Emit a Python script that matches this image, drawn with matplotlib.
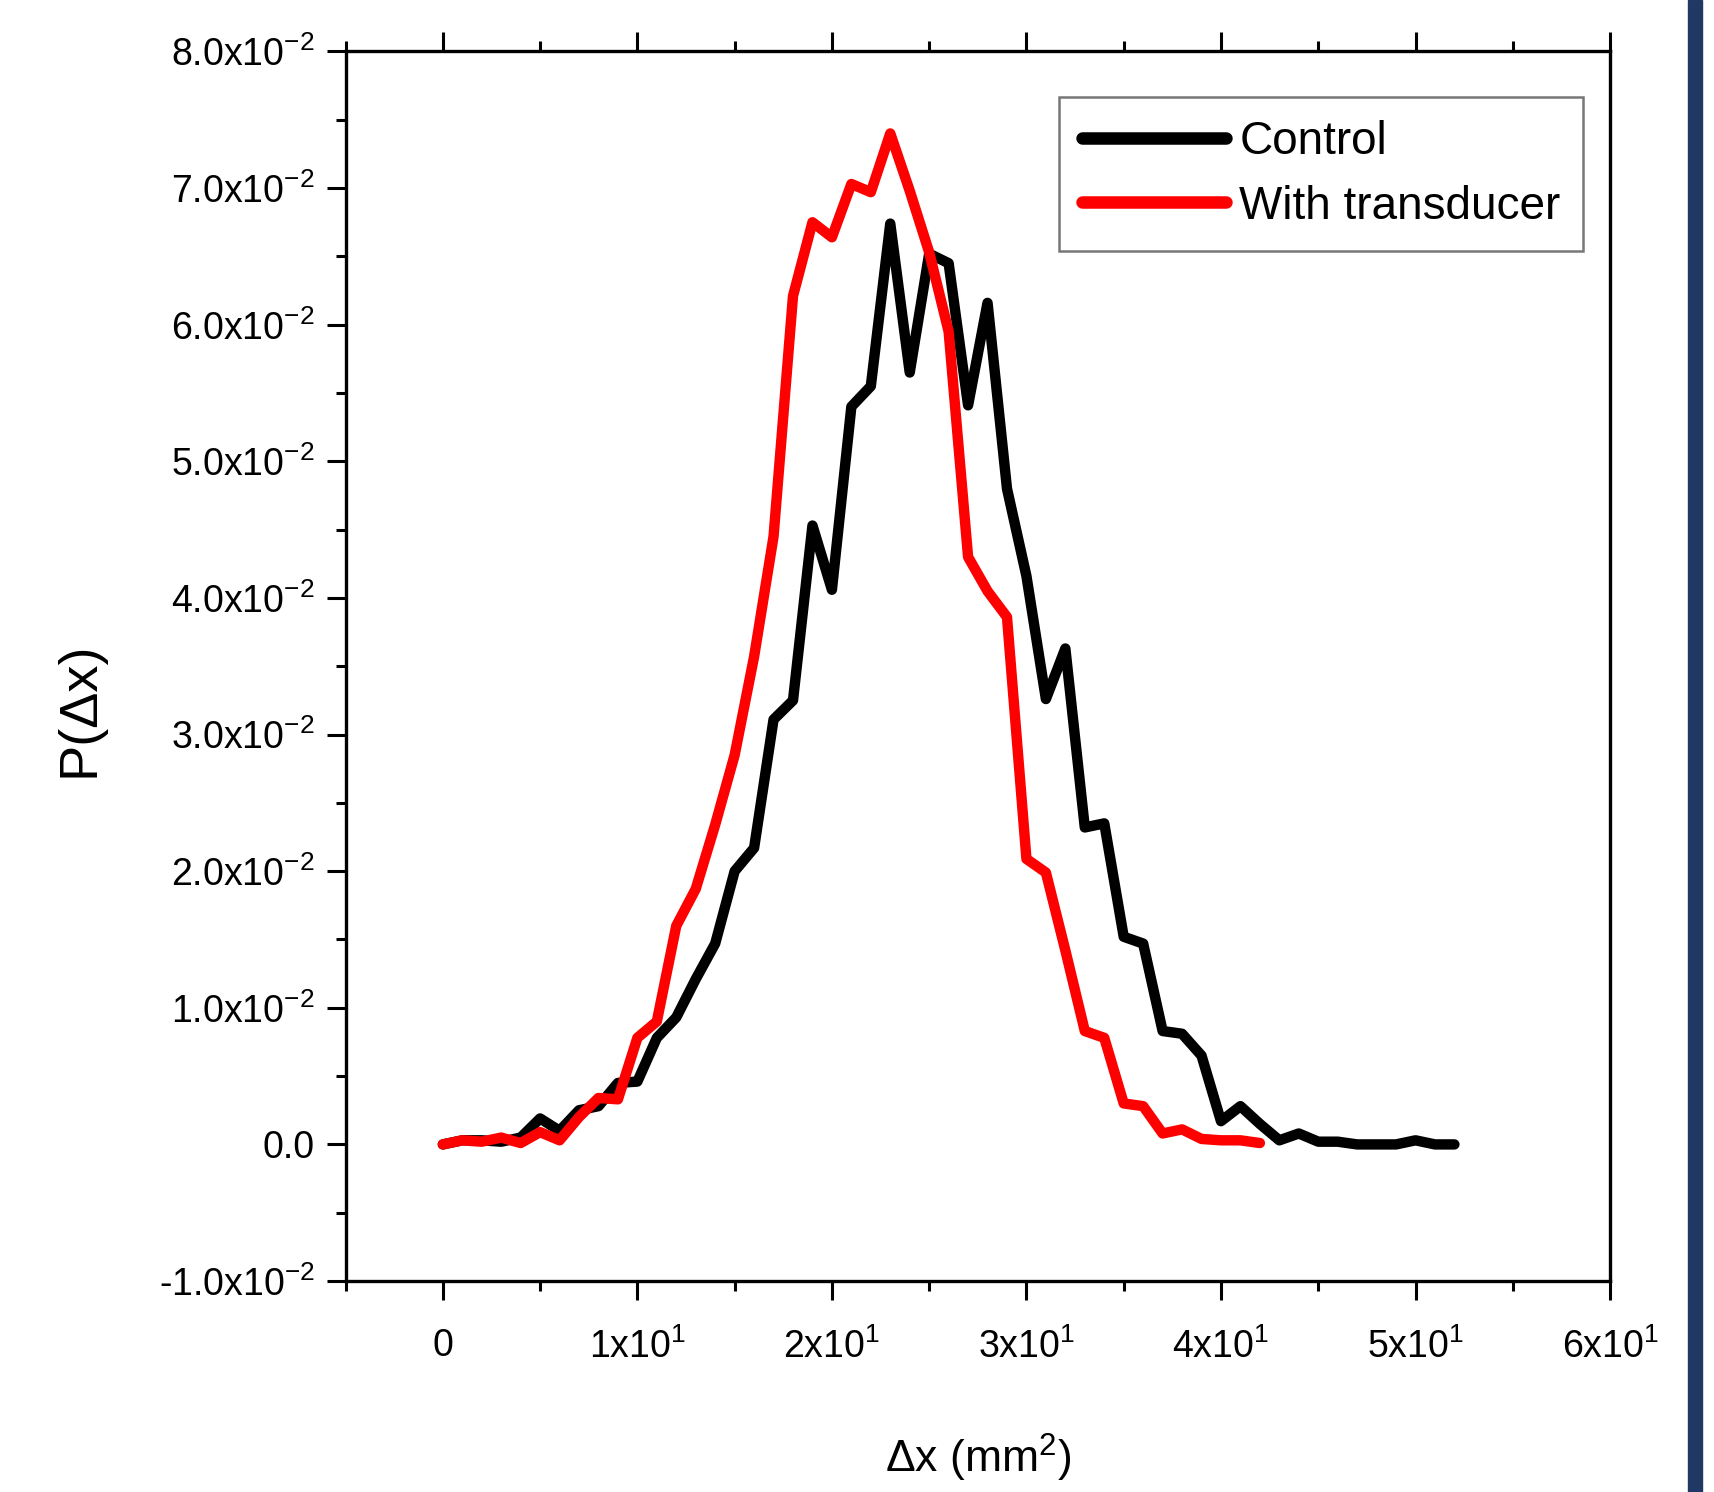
import numpy as np
import matplotlib
matplotlib.use("Agg")
import matplotlib.pyplot as plt
from matplotlib.patches import Rectangle
from matplotlib.ticker import MultipleLocator

plt.rcParams['font.family'] = ['Liberation Sans', 'DejaVu Sans']
plt.rcParams['mathtext.default'] = 'regular'

# displacement bins (mm^2)
control_x = list(range(0, 53))
control_p = [0.0, 0.0003, 0.0003, 0.0002, 0.0005, 0.0019, 0.0010, 0.0025, 0.0028, 0.0045,
             0.0046, 0.0078, 0.0093, 0.0121, 0.0147, 0.0200, 0.0217, 0.0311, 0.0325, 0.0453,
             0.0406, 0.0540, 0.0555, 0.0674, 0.0565, 0.0652, 0.0645, 0.0541, 0.0616, 0.0480,
             0.0416, 0.0326, 0.0363, 0.0232, 0.0235, 0.0152, 0.0147, 0.0083, 0.0081, 0.0065,
             0.0017, 0.0028, 0.0015, 0.0003, 0.0008, 0.0002, 0.0002, 0.0, 0.0, 0.0,
             0.0003, 0.0, 0.0]

transducer_x = list(range(0, 43))
transducer_p = [0.0, 0.0003, 0.0002, 0.0005, 0.0001, 0.0009, 0.0003, 0.0020, 0.0034, 0.0033,
                0.0078, 0.0090, 0.0160, 0.0187, 0.0234, 0.0285, 0.0357, 0.0445, 0.0621, 0.0675,
                0.0664, 0.0703, 0.0697, 0.0740, 0.0698, 0.0653, 0.0595, 0.0430, 0.0405, 0.0386,
                0.0209, 0.0199, 0.0142, 0.0083, 0.0078, 0.0030, 0.0028, 0.0008, 0.0011, 0.0004,
                0.0003, 0.0003, 0.0001]

xticks = [0, 10, 20, 30, 40, 50, 60]
xtick_labels = ['0', '1x10$^{1}$', '2x10$^{1}$', '3x10$^{1}$', '4x10$^{1}$', '5x10$^{1}$', '6x10$^{1}$']
yticks = [-0.01, 0.0, 0.01, 0.02, 0.03, 0.04, 0.05, 0.06, 0.07, 0.08]
ytick_labels = ['-1.0x10$^{-2}$', '0.0', '1.0x10$^{-2}$', '2.0x10$^{-2}$', '3.0x10$^{-2}$',
                '4.0x10$^{-2}$', '5.0x10$^{-2}$', '6.0x10$^{-2}$', '7.0x10$^{-2}$', '8.0x10$^{-2}$']

fig = plt.figure(figsize=(17.15, 14.92), dpi=100)
ax = fig.add_axes([0.2015, 0.1414, 0.7373, 0.8241])

ax.plot(control_x, control_p, color='black', lw=7.5, solid_capstyle='round', label='Control')
ax.plot(transducer_x, transducer_p, color='#ff0000', lw=7.5, solid_capstyle='round',
        label='With transducer')

ax.set_xlim(-5, 60)
ax.set_ylim(-0.01, 0.08)
ax.set_xticks(xticks)
ax.set_xticklabels(xtick_labels)
ax.set_yticks(yticks)
ax.set_yticklabels(ytick_labels)
ax.xaxis.set_minor_locator(MultipleLocator(5))
ax.yaxis.set_minor_locator(MultipleLocator(0.005))

for s in ax.spines.values():
    s.set_linewidth(2.4)
ax.tick_params(which='both', direction='out', top=True, right=False, width=2.2)
ax.tick_params(which='major', length=14)
ax.tick_params(which='minor', length=7)
ax.tick_params(axis='y', which='major', labelsize=27, pad=8)
ax.tick_params(axis='x', which='major', labelsize=27, pad=20)

ax.set_xlabel('Δx (mm$^{2}$)', fontsize=32)
ax.xaxis.set_label_coords(0.5, -0.123)
ax.set_ylabel('P(Δx)', fontsize=39)
ax.yaxis.set_label_coords(-0.191, 0.465)

leg = ax.legend(loc='upper right', bbox_to_anchor=(0.979, 0.963), borderaxespad=0,
                fontsize=33, fancybox=False, handlelength=3.15, handletextpad=0.28,
                labelspacing=0.45, borderpad=0.5)
leg.get_frame().set_edgecolor('#555555')
leg.get_frame().set_linewidth(1.8)
for ln in leg.get_lines():
    ln.set_linewidth(9)
    ln.set_solid_capstyle('round')

# dark stripe at the right edge
fig.patches.append(Rectangle((1688 / 1715, 0), 14 / 1715, 1, transform=fig.transFigure,
                             color='#1f3864', zorder=10))

fig.savefig('out.png', dpi=100)
